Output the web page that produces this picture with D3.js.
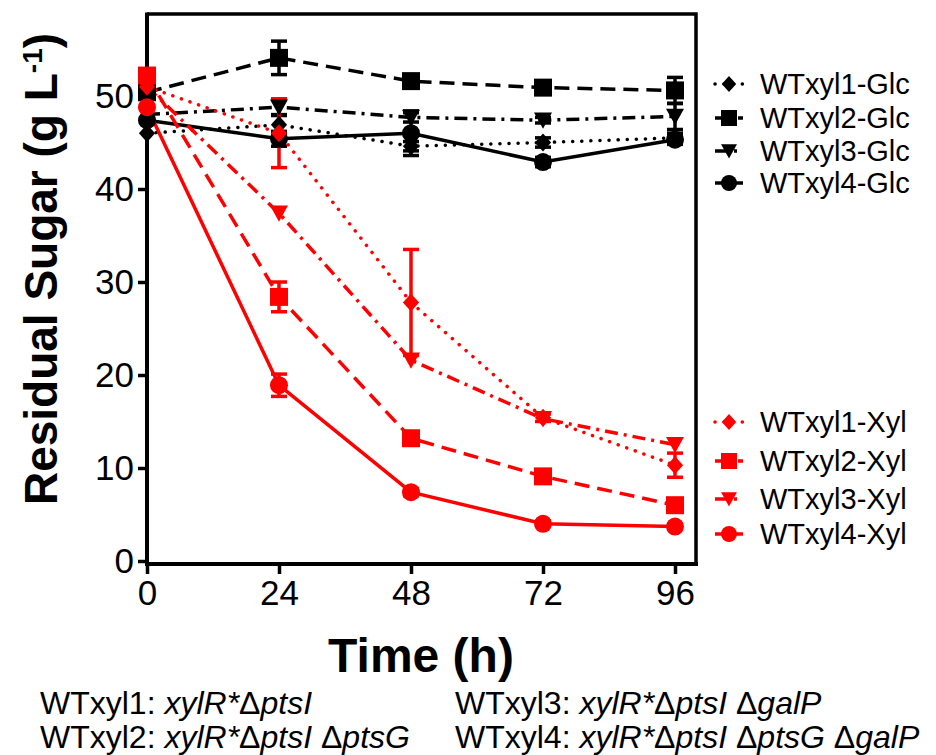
<!DOCTYPE html>
<html lang="en">
<head>
<meta charset="utf-8">
<title>Residual Sugar</title>
<script src="https://cdn.jsdelivr.net/npm/d3@7"></script>
<style>
  body{margin:0;background:#fff;font-family:"Liberation Sans",Arial,sans-serif;}
  svg{display:block;}
</style>
</head>
<body>
<svg id="chart" width="936" height="755"></svg>
<script>
// time points and axis ticks
var times = [0, 24, 48, 72, 96]
var xTicks = [0, 24, 48, 72, 96]
var yTicks = [0, 10, 20, 30, 40, 50]

// glucose series (black)
var glc1 = [46.0, 46.9, 44.6, 45.0, 45.5]
var glc1Err = [0, 1.0, 0.5, 0.5, 0.5]
var glc2 = [50.4, 54.1, 51.6, 50.9, 50.6]
var glc2Err = [0, 1.8, 0.5, 0.5, 1.4]
var glc3 = [48.0, 48.8, 47.7, 47.4, 47.8]
var glc3Err = [0, 0.8, 0.5, 0.3, 1.4]
var glc4 = [47.4, 45.4, 46.0, 42.9, 45.3]
var glc4Err = [0, 0.8, 2.4, 0.5, 0.5]

// xylose series (red)
var xyl1 = [51.0, 46.0, 27.8, 15.4, 10.3]
var xyl1Err = [0, 3.7, 5.7, 0.4, 1.3]
var xyl2 = [52.2, 28.4, 13.2, 9.1, 6.0]
var xyl2Err = [0, 1.6, 0.6, 0.5, 0.4]
var xyl3 = [51.0, 37.4, 21.6, 15.3, 12.5]
var xyl3Err = [0, 0, 0, 0, 0]
var xyl4 = [48.8, 18.9, 7.4, 4.0, 3.7]
var xyl4Err = [0, 1.2, 0.4, 0.3, 0.3]

var glcNames = ["WTxyl1-Glc", "WTxyl2-Glc", "WTxyl3-Glc", "WTxyl4-Glc"]
var xylNames = ["WTxyl1-Xyl", "WTxyl2-Xyl", "WTxyl3-Xyl", "WTxyl4-Xyl"]
var strainNotes = [
  ["WTxyl1: ", "xylR*", "\u0394", "ptsI"],
  ["WTxyl2: ", "xylR*", "\u0394", "ptsI ", "\u0394", "ptsG"],
  ["WTxyl3: ", "xylR*", "\u0394", "ptsI ", "\u0394", "galP"],
  ["WTxyl4: ", "xylR*", "\u0394", "ptsI ", "\u0394", "ptsG ", "\u0394", "galP"]
]

var shapes = ["diamond", "square", "triangle", "circle"]
var dashes = ["0.1 9", "15 8", "13 6 3 6", null]

var series = []
;[glc1, glc2, glc3, glc4].forEach(function(v, i){
  series.push({name: glcNames[i], values: v, errs: [glc1Err, glc2Err, glc3Err, glc4Err][i],
               color: "#000", shape: shapes[i], dash: dashes[i]})
})
;[xyl1, xyl2, xyl3, xyl4].forEach(function(v, i){
  series.push({name: xylNames[i], values: v, errs: [xyl1Err, xyl2Err, xyl3Err, xyl4Err][i],
               color: "#ff0000", shape: shapes[i], dash: dashes[i]})
})

var svg = d3.select("#chart")
var font = "'Liberation Sans', Arial, sans-serif"

var pLeft = 147, pRight = 696, pTop = 14, pBottom = 564
var xScale = d3.scaleLinear().domain([0, 100]).range([pLeft, pLeft + 550])
var yScale = d3.scaleLinear().domain([0, 50]).range([561, 96])

// marker paths
function markerPath(shape, s){
  var h = s / 2
  if(shape == "square") return "M" + (-h) + "," + (-h) + "h" + s + "v" + s + "h" + (-s) + "Z"
  if(shape == "diamond") return "M0," + (-h) + "L" + (h * 0.9) + ",0L0," + h + "L" + (-h * 0.9) + ",0Z"
  if(shape == "triangle") return "M" + (-h) + "," + (-h * 0.85) + "L" + h + "," + (-h * 0.85) + "L0," + (h * 0.95) + "Z"
  return d3.symbol().type(d3.symbolCircle).size(Math.PI * h * h)()
}

// frame top + right
svg.append("path")
  .attr("d", "M" + pLeft + "," + pTop + "H" + pRight + "V" + pBottom)
  .attr("fill", "none").attr("stroke", "#000").attr("stroke-width", 3.5)

// y axis
var yAxis = d3.axisLeft(yScale).tickValues(yTicks).tickSize(9).tickPadding(4)
var gy = svg.append("g").attr("transform", "translate(" + pLeft + ",0)").call(yAxis)
gy.select(".domain").remove()
gy.selectAll(".tick line").attr("stroke-width", 3.5)
gy.selectAll(".tick text").style("font-family", font).style("font-size", "35px").attr("fill", "#000")
svg.append("line").attr("x1", pLeft).attr("x2", pLeft).attr("y1", pTop - 1.5).attr("y2", pBottom + 2)
  .attr("stroke", "#000").attr("stroke-width", 4)

// x axis
var xAxis = d3.axisBottom(xScale).tickValues(xTicks).tickSize(10).tickPadding(6)
var gx = svg.append("g").attr("transform", "translate(0," + pBottom + ")").call(xAxis)
gx.select(".domain").remove()
gx.selectAll(".tick line").attr("stroke-width", 3.5)
gx.selectAll(".tick text").style("font-family", font).style("font-size", "35px").attr("fill", "#000")
svg.append("line").attr("x1", pLeft - 2).attr("x2", pRight + 2).attr("y1", pBottom).attr("y2", pBottom)
  .attr("stroke", "#000").attr("stroke-width", 4)

// axis titles
svg.append("text").attr("x", 421).attr("y", 672).attr("text-anchor", "middle")
  .style("font-family", font).style("font-size", "48px").style("font-weight", "bold")
  .text("Time (h)")

var yt = svg.append("text").attr("transform", "translate(57,269) rotate(-90)")
  .attr("text-anchor", "middle")
  .style("font-family", font).style("font-size", "46px").style("font-weight", "bold")
yt.append("tspan").text("Residual Sugar (g L")
yt.append("tspan").attr("baseline-shift", "super").style("font-size", "28px").text("-1")
yt.append("tspan").text(")")

var plot = svg.append("g")

// error bars
series.forEach(function(s){
  s.values.forEach(function(v, i){
    if(!s.errs[i]) return
    var cx = xScale(times[i]), y1 = yScale(v + s.errs[i]), y2 = yScale(v - s.errs[i])
    plot.append("line").attr("x1", cx).attr("x2", cx).attr("y1", y1).attr("y2", y2)
      .attr("stroke", s.color).attr("stroke-width", 3.5)
    ;[y1, y2].forEach(function(yy){
      plot.append("line").attr("x1", cx - 8).attr("x2", cx + 8).attr("y1", yy).attr("y2", yy)
        .attr("stroke", s.color).attr("stroke-width", 3.5)
    })
  })
})

// lines
var line = d3.line().x(function(d, i){ return xScale(times[i]) }).y(function(d){ return yScale(d) })
series.forEach(function(s){
  plot.append("path").attr("d", line(s.values))
    .attr("fill", "none").attr("stroke", s.color).attr("stroke-width", 3.5)
    .attr("stroke-dasharray", s.dash)
    .attr("stroke-linecap", s.shape == "diamond" ? "round" : "butt")
})

// markers
series.forEach(function(s){
  plot.selectAll(null).data(s.values).enter().append("path")
    .attr("d", markerPath(s.shape, 18))
    .attr("transform", function(d, i){ return "translate(" + xScale(times[i]) + "," + yScale(d) + ")" })
    .attr("fill", s.color)
})

// legends
function drawLegend(list, ys){
  list.forEach(function(s, i){
    var g = svg.append("g").attr("transform", "translate(0," + ys[i] + ")")
    g.append("line").attr("x1", 715).attr("x2", 743).attr("y1", 0).attr("y2", 0)
      .attr("stroke", s.color).attr("stroke-width", 3.5)
      .attr("stroke-dasharray", s.dash)
      .attr("stroke-linecap", s.shape == "diamond" ? "round" : "butt")
    g.append("path").attr("d", markerPath(s.shape, 16)).attr("transform", "translate(729,0)")
      .attr("fill", s.color)
    g.append("text").attr("x", 760).attr("y", 0).attr("dy", "0.35em")
      .style("font-family", font).style("font-size", "29px").text(s.name)
  })
}
drawLegend(series.slice(0, 4), [84, 118, 151, 183])
drawLegend(series.slice(4), [422, 461, 499, 534])

// strain notes
var notePos = [[40, 714], [40, 748], [455, 714], [455, 748]]
strainNotes.forEach(function(parts, i){
  var t = svg.append("text").attr("x", notePos[i][0]).attr("y", notePos[i][1])
    .style("font-family", font).style("font-size", "32px")
  parts.forEach(function(p, j){
    var italic = !(j == 0 || p == "\u0394")
    t.append("tspan").style("font-style", italic ? "italic" : "normal").text(p)
  })
})
</script>
</body>
</html>
